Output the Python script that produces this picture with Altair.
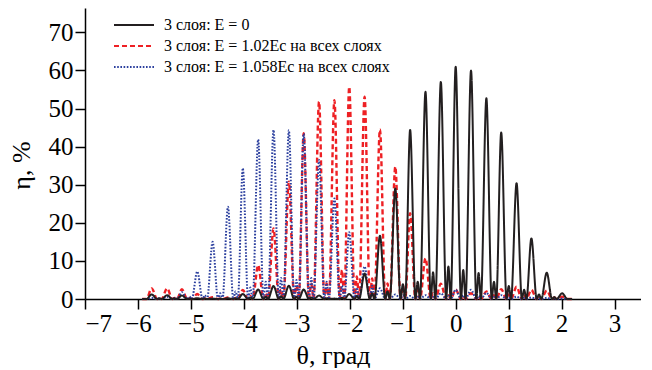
import altair as alt
import pandas as pd

# diffraction-order angles (deg), shared by the three curves
theta_peaks = [-5.74, -5.45, -5.17, -4.88, -4.59, -4.30, -4.02, -3.73, -3.44, -3.15,
               -2.87, -2.58, -2.29, -2.01, -1.72, -1.43, -1.14, -0.86, -0.57, -0.28,
               0.00, 0.29, 0.58, 0.86, 1.15, 1.43, 1.72, 2.01]

# main-lobe heights, %
black_main = [1.2, 1.0, 0.9, 0.2, 0.1, 0.2, 1.3, 2.5, 3.4, 3.5,
              2.5, 0.9, 0.1, 1.3, 6.7, 16.6, 29.0, 44.4, 54.4, 57.0,
              61.0, 60.0, 52.7, 43.7, 30.4, 15.9, 6.9, 1.5]
red_main = [2.8, 2.8, 2.6, 1.3, 0.5, 0.4, 2.4, 8.9, 18.5, 30.8,
            43.5, 51.8, 52.2, 55.7, 53.1, 44.5, 34.7, 22.5, 10.7, 4.0,
            2.5, 1.5, 2.0, 2.6, 3.2, 2.4, 2.2, 0.6]
blue_main = [0.3, 0.6, 1.8, 7.2, 15.0, 24.2, 34.3, 41.9, 44.4, 44.3,
             43.4, 36.5, 26.4, 17.5, 8.5, 2.8, 1.2, 0.8, 1.0, 1.5,
             2.4, 2.4, 1.6, 1.0, 0.6, 0.4, 0.3, 0.1]

# side-lobe heights between consecutive orders, %
black_side = [0.2, 0.2, 0.1, 0.1, 0.1, 0.2, 0.4, 0.6, 0.7, 0.6,
              0.4, 0.2, 0.3, 0.8, 1.5, 2.0, 3.9, 4.5, 7.0, 8.5,
              7.6, 6.8, 4.5, 3.4, 2.4, 1.2, 0.5]
red_side = [0.3, 0.3, 0.3, 0.2, 0.1, 0.3, 0.8, 1.5, 2.5, 3.5,
            4.0, 4.1, 7.6, 5.9, 5.4, 4.1, 3.5, 2.4, 1.5, 1.0,
            0.8, 0.8, 1.0, 1.2, 1.2, 1.0, 0.4]
blue_side = [0.2, 0.3, 0.6, 1.0, 1.5, 2.0, 3.0, 4.5, 5.5, 5.0,
             5.5, 4.5, 3.5, 3.0, 3.5, 2.0, 1.0, 0.5, 0.5, 0.8,
             1.0, 0.8, 0.5, 0.3, 0.2, 0.1, 0.1]

theta_start = -5.92
theta_end = 2.20
lobe_half = 0.10      # zero after a main lobe
side_pos = 0.143      # side lobe position after a main lobe
side_end = 0.187      # zero after side lobe

labels = ["3 слоя: E = 0",
          "3 слоя: E = 1.02Ec на всех слоях",
          "3 слоя: E = 1.058Ec на всех слоях"]
colors = ["#231f20", "#ee2024", "#2b3f9e"]
dashes = [[1, 0], [5, 3], [1.6, 1.6]]
widths = [2.0, 2.4, 2.0]

rows = []
for name, main, side in zip(labels, [black_main, red_main, blue_main],
                            [black_side, red_side, blue_side]):
    pts = [(theta_start, 0.0), (theta_peaks[0] - lobe_half, 0.0)]
    for i, p in enumerate(theta_peaks):
        pts.append((p, main[i]))
        if i < len(side):
            pts.append((p + lobe_half, 0.0))
            pts.append((p + side_pos, side[i]))
            pts.append((p + side_end, 0.0))
    pts.append((theta_peaks[-1] + lobe_half, 0.0))
    pts.append((theta_end, 0.0))
    for k, (t, e) in enumerate(pts):
        rows.append({"theta": t, "eta": e, "series": name, "idx": k})
df = pd.DataFrame(rows)

FONT = "Liberation Serif, Times New Roman, serif"
legend = alt.Legend(
    title=None, orient="none", legendX=41, legendY=9,
    symbolType="M-4,0H4", symbolSize=100, symbolStrokeWidth=2,
    labelFont=FONT, labelFontSize=16, labelColor="black", labelLimit=0,
    rowPadding=5, padding=0, labelOffset=22,
)

x_enc = alt.X("theta:Q",
              scale=alt.Scale(domain=[-7, 3.5], nice=False, zero=False),
              axis=alt.Axis(values=list(range(-7, 4)), title="θ, град",
                            titleX=248, format="d"))
y_enc = alt.Y("eta:Q",
              scale=alt.Scale(domain=[0, 76.4], nice=False),
              axis=alt.Axis(values=[0, 10, 20, 30, 40, 50, 60, 70], title="η, %",
                            titleY=157, titlePadding=14))
c_enc = alt.Color("series:N", scale=alt.Scale(domain=labels, range=colors), legend=legend)
d_enc = alt.StrokeDash("series:N", scale=alt.Scale(domain=labels, range=dashes), legend=legend)


def layer(i):
    return (alt.Chart(df)
            .transform_filter(alt.datum.series == labels[i])
            .mark_line(interpolate="monotone", strokeWidth=widths[i])
            .encode(x=x_enc, y=y_enc, color=c_enc, strokeDash=d_enc,
                    order=alt.Order("idx:Q")))


chart = (alt.layer(layer(1), layer(2), layer(0))
         .properties(width=556, height=291,
                     padding={"left": 0, "top": 0, "right": 0, "bottom": 0})
         .configure(font=FONT)
         .configure_view(stroke=None)
         .configure_legend(labelFont=FONT)
         .configure_axis(grid=False, domainColor="black", domainWidth=1.5,
                         tickColor="black", tickWidth=1.5, tickSize=10,
                         labelFont=FONT, labelFontSize=25, labelColor="black",
                         labelPadding=2, titleFont=FONT, titleFontSize=26,
                         titleFontWeight="normal", titleColor="black",
                         titlePadding=6))

chart.save("out.html", embed_options={"renderer": "svg", "actions": False})
